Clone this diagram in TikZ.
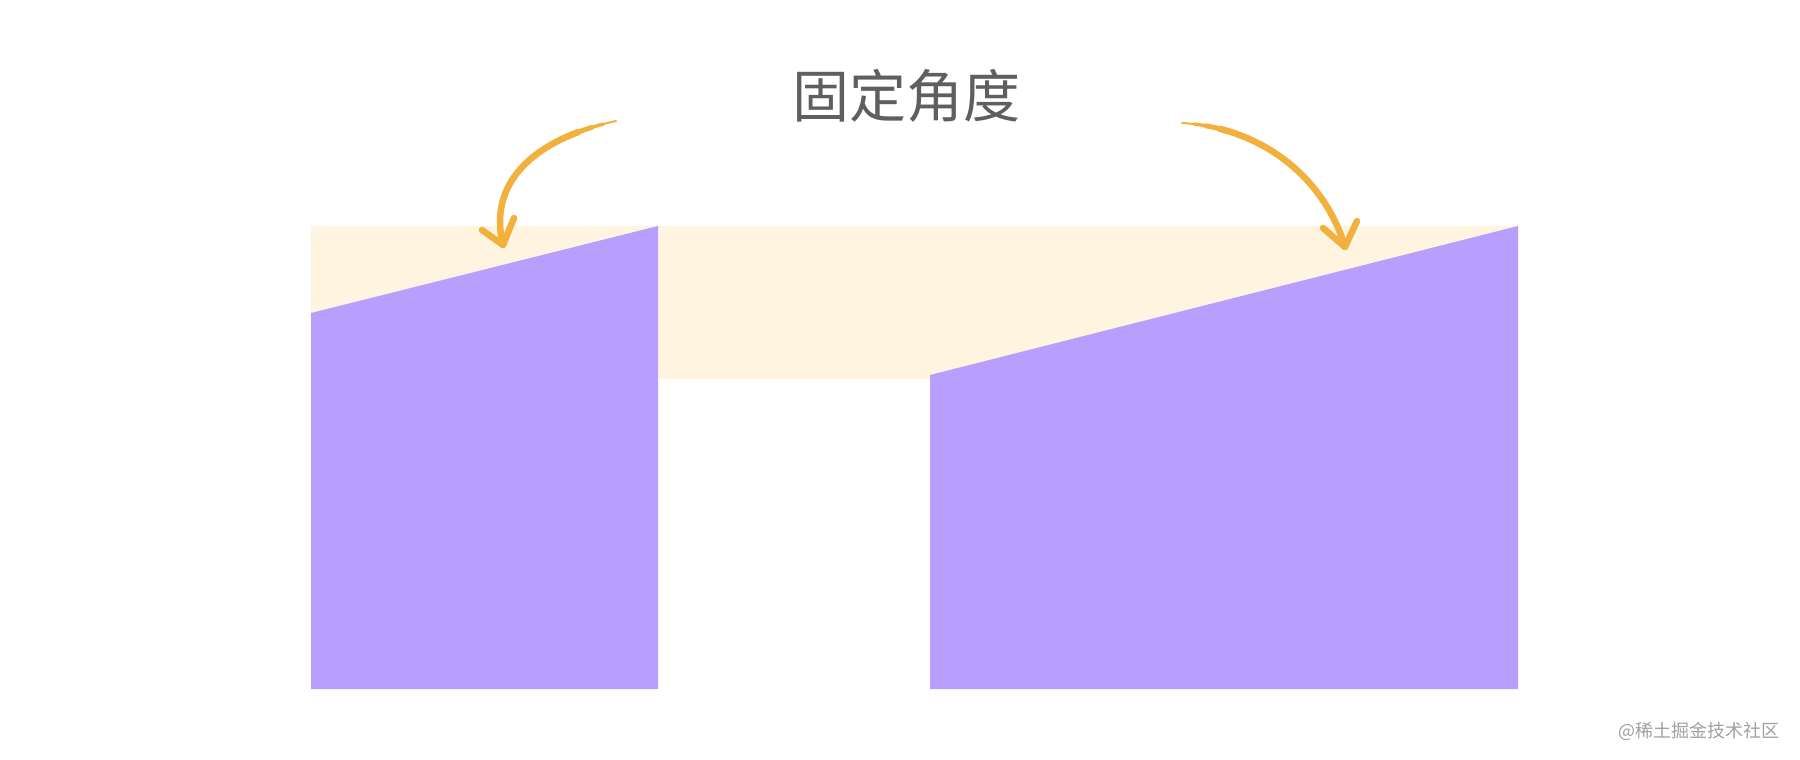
\documentclass[tikz,border=0pt]{standalone}
\usepackage{fontspec}
\usetikzlibrary{calc}
\newfontfamily\cjk{Noto Sans CJK SC}
\definecolor{purp}{HTML}{B89EFD}
\definecolor{beige}{HTML}{FEF4DF}
\definecolor{orng}{HTML}{F2B03C}
\definecolor{txtgray}{HTML}{5F5F5F}
\definecolor{wmgray}{HTML}{A0A0A0}
\begin{document}
\begin{tikzpicture}[x=1pt,y=-1pt,
  brush/.style={draw=orng,line width=6.5pt,line cap=round,line join=round},
  title/.style={font=\cjk\fontsize{57}{60}\selectfont,text=txtgray,inner sep=0pt},
  wm/.style={font=\cjk\fontsize{18}{20}\selectfont,text=wmgray,inner sep=0pt,anchor=east}]
\useasboundingbox (0,0) rectangle (1800,760);
% background band
\fill[beige] (311,226) rectangle (1518,379);
% purple blocks
\fill[purp] (311,689) -- (311,313) -- (658,226) -- (658,689) -- cycle;
\fill[purp] (930,689) -- (930,375) -- (1518,226) -- (1518,689) -- cycle;
% title
\node[title] (t) at (906,96) {固定角度};
% arrow control points
\coordinate (L0) at (616,121);
\coordinate (L1) at (530,140);
\coordinate (L2) at (488,185);
\coordinate (L3) at (503,245);
\coordinate (la) at (482,230);
\coordinate (lb) at (514,218);
\coordinate (R0) at (1182,123);
\coordinate (R1) at (1265,128);
\coordinate (R2) at (1325,180);
\coordinate (R3) at (1345,247);
\coordinate (ra) at (1323,228);
\coordinate (rb) at (1357,221);
% tapered strokes: exact sub-curves from parameter t to 1
\foreach \w/\t in {2pt/0,3.5pt/0.05,5pt/0.1,6.5pt/0.16}{
  \foreach \S in {L,R}{
    \coordinate (A) at ($(\S0)!\t!(\S1)$);
    \coordinate (B) at ($(\S1)!\t!(\S2)$);
    \coordinate (C) at ($(\S2)!\t!(\S3)$);
    \coordinate (D) at ($(A)!\t!(B)$);
    \coordinate (E) at ($(B)!\t!(C)$);
    \coordinate (F) at ($(D)!\t!(E)$);
    \draw[brush,line width=\w] (F) .. controls (E) and (C) .. (\S3);
  }
}
\draw[brush] (la) -- (L3) -- (lb);
\draw[brush] (ra) -- (R3) -- (rb);
% watermark
\node[wm] (w) at (1780,731) {@稀土掘金技术社区};
\end{tikzpicture}
\end{document}
